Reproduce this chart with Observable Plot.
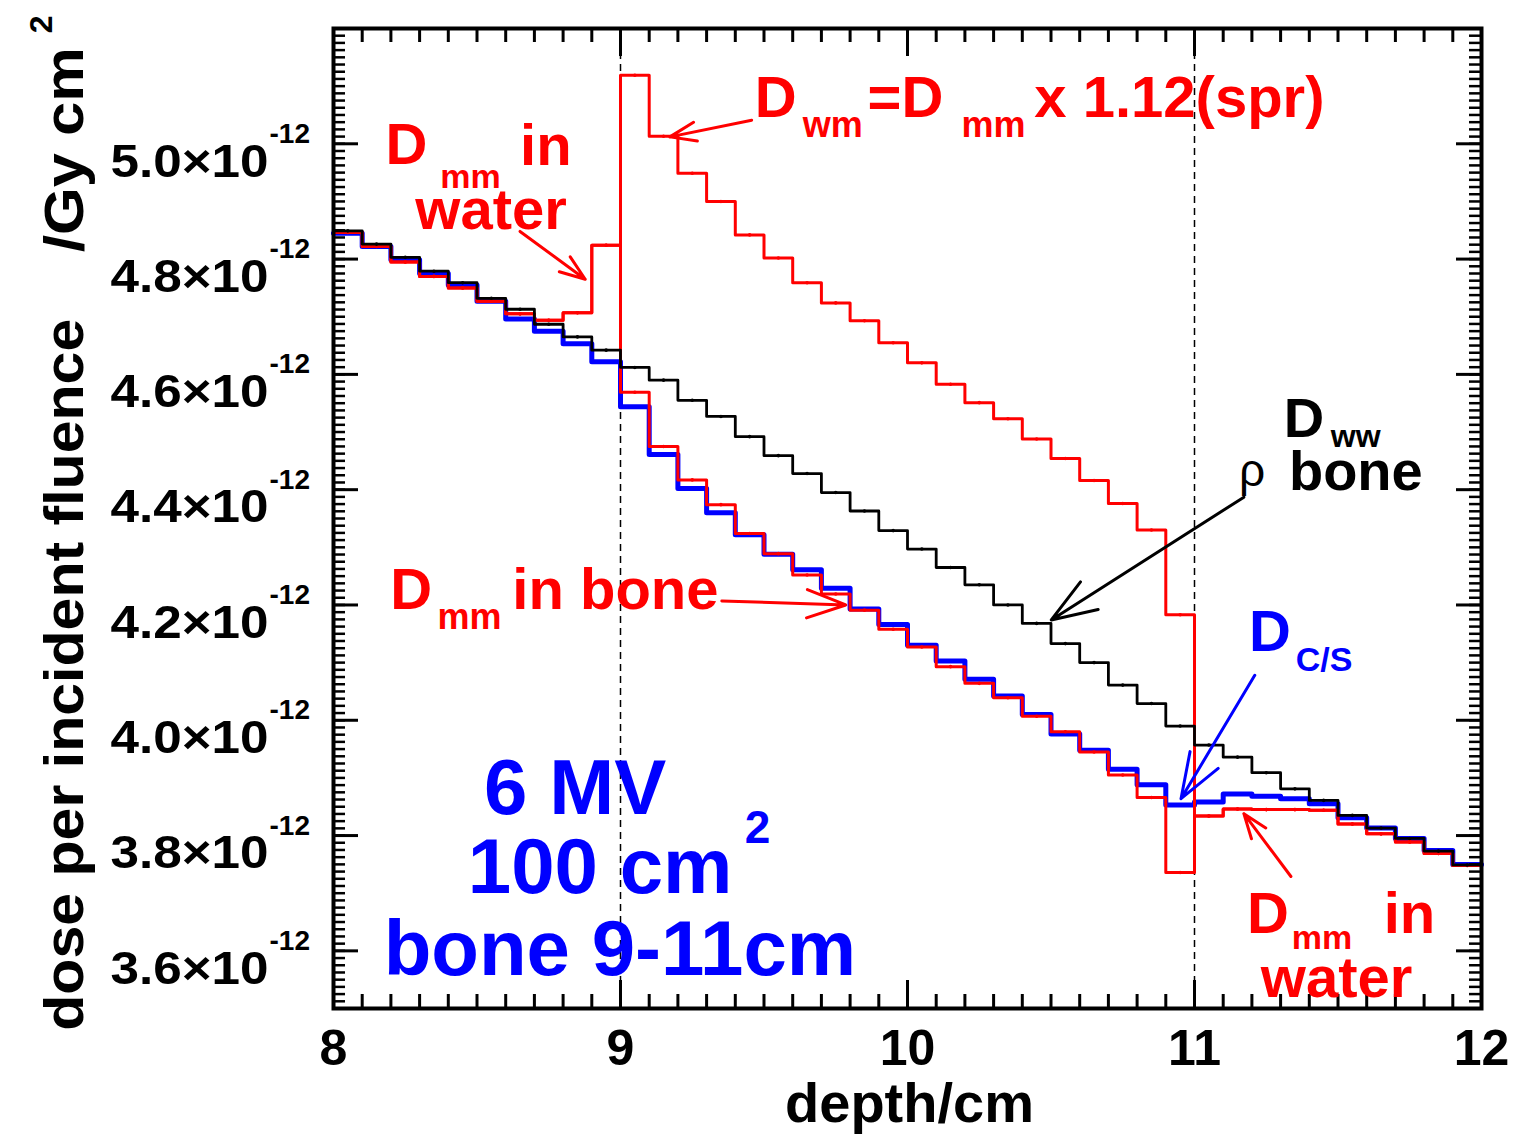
<!DOCTYPE html>
<html>
<head>
<meta charset="utf-8">
<script src="https://cdn.jsdelivr.net/npm/d3@7"></script>
<script src="https://cdn.jsdelivr.net/npm/@observablehq/plot@0.6"></script>
<style>
  html, body { margin: 0; padding: 0; background: #fff; }
  svg { display: block; }
</style>
</head>
<body>
<div id="chart"></div>
<script>
// ---- data (dose per incident fluence, in units of 1e-12 Gy cm^2) ----
const depthEdges = [8.0,8.1,8.2,8.3,8.4,8.5,8.6,8.7,8.8,8.9,9.0,9.1,9.2,9.3,9.4,9.5,9.6,9.7,9.8,9.9,
  10.0,10.1,10.2,10.3,10.4,10.5,10.6,10.7,10.8,10.9,11.0,11.1,11.2,11.3,11.4,11.5,11.6,11.7,11.8,11.9,12.0];

// D_ww (rho bone) - black
const doseWW = [4.849,4.826,4.803,4.779,4.759,4.732,4.713,4.687,4.665,4.642,
  4.612,4.590,4.555,4.527,4.492,4.459,4.428,4.395,4.363,4.329,
  4.297,4.265,4.235,4.200,4.168,4.133,4.100,4.061,4.029,3.990,
  3.957,3.936,3.909,3.881,3.861,3.835,3.813,3.795,3.773,3.749];

// D_C/S - blue
const doseCS = [4.845,4.822,4.799,4.775,4.755,4.727,4.696,4.675,4.653,4.622,
  4.544,4.461,4.402,4.360,4.322,4.288,4.261,4.229,4.193,4.166,
  4.130,4.103,4.071,4.042,4.010,3.976,3.948,3.915,3.888,3.853,
  3.858,3.872,3.868,3.864,3.855,3.831,3.813,3.795,3.774,3.750];

// D_mm (water / bone / water) - red
const doseMM = [4.846,4.822,4.795,4.770,4.750,4.727,4.705,4.694,4.707,4.824,
  4.569,4.475,4.417,4.374,4.324,4.289,4.252,4.219,4.191,4.158,
  4.127,4.093,4.064,4.039,4.007,3.980,3.945,3.905,3.866,3.736,
  3.834,3.846,3.845,3.845,3.844,3.820,3.803,3.789,3.769,3.748];

// D_wm = D_mm x 1.12 (spr) in bone - red
const doseWM = [4.846,4.822,4.795,4.770,4.750,4.727,4.705,4.694,4.707,4.824,
  5.119,5.013,4.949,4.900,4.842,4.802,4.759,4.724,4.693,4.655,
  4.620,4.583,4.551,4.523,4.488,4.454,4.416,4.376,4.330,4.183,
  3.834,3.846,3.845,3.845,3.844,3.820,3.803,3.789,3.769,3.748];

const boneInterfaces = [9, 11];
const xTickValues = [8, 9, 10, 11, 12];
const xTickLabels = ["8", "9", "10", "11", "12"];
const yTickValues = [3.6, 3.8, 4.0, 4.2, 4.4, 4.6, 4.8, 5.0];
const yTickLabels = ["3.6", "3.8", "4.0", "4.2", "4.4", "4.6", "4.8", "5.0"];
const yTickExponent = "-12";
const xMinorTicks = d3.range(80, 121).map(d => d / 10);
const yMinorTicks = d3.range(280, 417).map(d => d * 0.0125);

// annotations (data coordinates)
const RED = "#ff0000", BLUE = "#0000ff", BLACK = "#000000";
const annotationText = [
  // D_mm in water (left)
  {t: "D", x: 8.181, y: 4.998, s: 58, c: RED},
  {t: "mm", x: 8.372, y: 4.943, s: 34, c: RED},
  {t: "in", x: 8.650, y: 4.995, s: 58, c: RED},
  {t: "water", x: 8.285, y: 4.884, s: 58, c: RED},
  // D_wm = D_mm x 1.12(spr)
  {t: "D", x: 9.468, y: 5.078, s: 58, c: RED},
  {t: "wm", x: 9.635, y: 5.031, s: 36, c: RED},
  {t: "=D", x: 9.861, y: 5.078, s: 58, c: RED},
  {t: "mm", x: 10.188, y: 5.031, s: 36, c: RED},
  {t: "x 1.12(spr)", x: 10.442, y: 5.078, s: 58, c: RED},
  // D_mm in bone
  {t: "D", x: 8.198, y: 4.226, s: 58, c: RED},
  {t: "mm", x: 8.362, y: 4.178, s: 36, c: RED},
  {t: "in bone", x: 8.623, y: 4.226, s: 58, c: RED},
  // D_ww rho bone
  {t: "D", x: 11.311, y: 4.522, s: 56, c: BLACK},
  {t: "ww", x: 11.475, y: 4.492, s: 32, c: BLACK},
  {t: "bone", x: 11.329, y: 4.431, s: 56, c: BLACK},
  // D_C/S
  {t: "D", x: 11.19, y: 4.152, s: 58, c: BLUE},
  {t: "C/S", x: 11.353, y: 4.105, s: 34, c: BLUE},
  // D_mm in water (right)
  {t: "D", x: 11.183, y: 3.663, s: 58, c: RED},
  {t: "mm", x: 11.339, y: 3.622, s: 34, c: RED},
  {t: "in", x: 11.659, y: 3.663, s: 58, c: RED},
  {t: "water", x: 11.231, y: 3.552, s: 58, c: RED}
];
const rhoText = [{t: "ρ", x: 11.155, y: 4.432}];
const beamText = [
  {t: "6 MV", x: 8.842, y: 3.881},
  {t: "100 cm", x: 8.929, y: 3.743},
  {t: "bone 9-11cm", x: 8.998, y: 3.601}
];
const beamSup = [{t: "2", x: 9.433, y: 3.812}];
const arrows = [
  {x1: 8.650, y1: 4.848, x2: 8.877, y2: 4.765, c: RED},
  {x1: 9.457, y1: 5.041, x2: 9.172, y2: 5.012, c: RED},
  {x1: 9.353, y1: 4.207, x2: 9.785, y2: 4.200, c: RED},
  {x1: 11.172, y1: 4.387, x2: 10.501, y2: 4.174, c: BLACK},
  {x1: 11.210, y1: 4.078, x2: 10.953, y2: 3.864, c: BLUE},
  {x1: 11.336, y1: 3.729, x2: 11.172, y2: 3.838, c: RED}
];

// ---- build ----
const FONT = "'Liberation Sans', Arial, Helvetica, sans-serif";
const W = 1514, H = 1136;
const mL = 333, mR = 33, mT = 28, mB = 128;
const innerW = W - mL - mR, innerH = H - mT - mB;

function steps(values) {
  const rows = values.map((v, i) => ({x: depthEdges[i], y: v}));
  rows.push({x: depthEdges[values.length], y: values[values.length - 1]});
  return rows;
}
function centers(values) {
  return values.map((v, i) => ({x: (depthEdges[i] + depthEdges[i + 1]) / 2, y: v}));
}

const plot = Plot.plot({
  width: W, height: H,
  marginLeft: mL, marginRight: mR, marginTop: mT, marginBottom: mB,
  x: {domain: [8, 12], axis: null},
  y: {domain: [3.5, 5.2], axis: null},
  style: {background: "#fff", fontFamily: FONT},
  marks: [
    Plot.ruleX(boneInterfaces, {x: d => d, stroke: BLACK, strokeWidth: 1.5, strokeDasharray: "7,5"}),
    // curves
    Plot.line(steps(doseCS), {x: "x", y: "y", curve: "step-after", stroke: BLUE, strokeWidth: 5}),
    Plot.line(steps(doseMM), {x: "x", y: "y", curve: "step-after", stroke: RED, strokeWidth: 3}),
    Plot.line(steps(doseWM), {x: "x", y: "y", curve: "step-after", stroke: RED, strokeWidth: 3}),
    Plot.dot(centers(doseMM), {x: "x", y: "y", r: 1.8, fill: RED}),
    Plot.dot(centers(doseWM), {x: "x", y: "y", r: 1.8, fill: RED}),
    Plot.line(steps(doseWW), {x: "x", y: "y", curve: "step-after", stroke: BLACK, strokeWidth: 2.8}),
    Plot.dot(centers(doseWW), {x: "x", y: "y", r: 1.8, fill: BLACK}),
    // ticks (inward, all four sides)
    Plot.tickX(xTickValues, {x: d => d, insetTop: innerH - 28, strokeWidth: 3}),
    Plot.tickX(xTickValues, {x: d => d, insetBottom: innerH - 28, strokeWidth: 3}),
    Plot.tickX(xMinorTicks, {x: d => d, insetTop: innerH - 14, strokeWidth: 3}),
    Plot.tickX(xMinorTicks, {x: d => d, insetBottom: innerH - 14, strokeWidth: 3}),
    Plot.tickY(yTickValues, {y: d => d, insetRight: innerW - 25, strokeWidth: 3}),
    Plot.tickY(yTickValues, {y: d => d, insetLeft: innerW - 25, strokeWidth: 3}),
    Plot.tickY(yMinorTicks, {y: d => d, insetRight: innerW - 12, strokeWidth: 2.5}),
    Plot.tickY(yMinorTicks, {y: d => d, insetLeft: innerW - 12, strokeWidth: 2.5}),
    Plot.frame({stroke: BLACK, strokeWidth: 4}),
    // x tick labels and title
    Plot.text(xTickValues, {x: d => d, frameAnchor: "bottom", text: (d, i) => xTickLabels[i], dy: 40,
      fontSize: 50, fontWeight: "bold", fill: BLACK, lineAnchor: "middle"}),
    Plot.text(["depth/cm"], {x: 10.007, frameAnchor: "bottom", text: d => d, dy: 96,
      fontSize: 56, fontWeight: "bold", fill: BLACK, lineAnchor: "middle"}),
    // y tick labels
    Plot.text(yTickValues, {x: 8, y: d => d, text: (d, i) => yTickLabels[i] + "×10", dx: -65, dy: 18,
      textAnchor: "end", fontSize: 46, fontWeight: "bold", fill: BLACK, lineAnchor: "middle", className: "ytl"}),
    Plot.text(yTickValues, {x: 8, y: d => d, text: () => yTickExponent, dx: -64, dy: -10,
      textAnchor: "start", fontSize: 28, fontWeight: "bold", fill: BLACK, lineAnchor: "middle"}),
    // y title
    Plot.text(["dose per incident fluence"], {x: 8, y: 4.079, text: d => d, dx: -268, rotate: -90,
      fontSize: 56, fontWeight: "bold", fill: BLACK, lineAnchor: "middle", textAnchor: "middle", className: "yt1"}),
    Plot.text(["/Gy cm"], {x: 8, y: 4.990, text: d => d, dx: -268, rotate: -90,
      fontSize: 56, fontWeight: "bold", fill: BLACK, lineAnchor: "middle", textAnchor: "middle", className: "yt2"}),
    Plot.text(["2"], {x: 8, y: 5.207, text: d => d, dx: -292, rotate: -90,
      fontSize: 32, fontWeight: "bold", fill: BLACK, lineAnchor: "middle", textAnchor: "middle"}),
    // annotations
    Plot.arrow(arrows, {x1: "x1", y1: "y1", x2: "x2", y2: "y2", stroke: d => d.c, strokeWidth: 3,
      headLength: 24, headAngle: 40}),
    Plot.text(annotationText, {x: "x", y: "y", text: "t", fill: d => d.c, fontSize: d => d.s,
      fontWeight: "bold", textAnchor: "start", lineAnchor: "middle"}),
    Plot.text(rhoText, {x: "x", y: "y", text: "t", fill: BLACK, fontSize: 46,
      fontWeight: "normal", textAnchor: "start", lineAnchor: "middle"}),
    Plot.text(beamText, {x: "x", y: "y", text: "t", fill: BLUE, fontSize: 78,
      fontWeight: "bold", textAnchor: "middle", lineAnchor: "middle"}),
    Plot.text(beamSup, {x: "x", y: "y", text: "t", fill: BLUE, fontSize: 46,
      fontWeight: "bold", textAnchor: "start", lineAnchor: "middle"})
  ]
});
document.getElementById("chart").appendChild(plot);

// condense axis texts to the reference's narrow face
d3.select(plot).selectAll("g.ytl text").attr("textLength", 158).attr("lengthAdjust", "spacingAndGlyphs");
d3.select(plot).selectAll("g.yt1 text").attr("textLength", 712).attr("lengthAdjust", "spacingAndGlyphs");
d3.select(plot).selectAll("g.yt2 text").attr("textLength", 205).attr("lengthAdjust", "spacingAndGlyphs");
</script>
</body>
</html>
